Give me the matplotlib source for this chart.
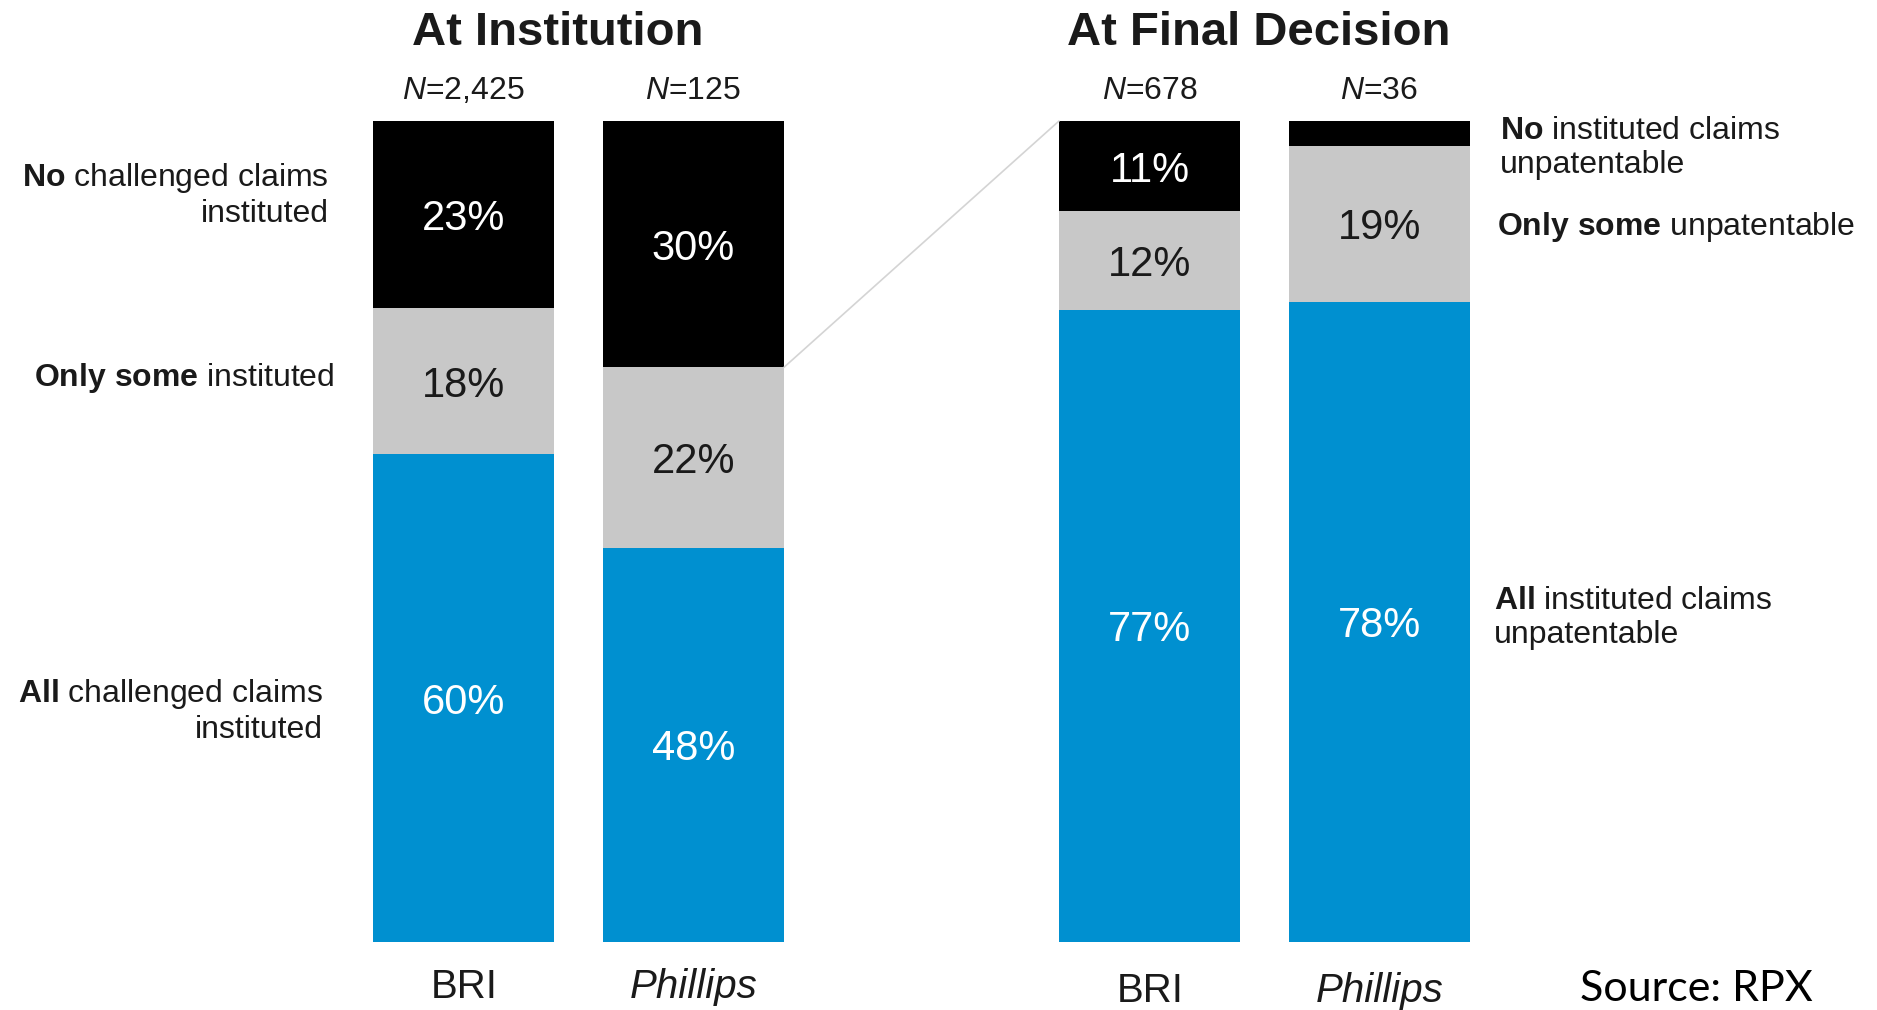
import matplotlib
matplotlib.use("Agg")
import matplotlib.pyplot as plt
from matplotlib.patches import ConnectionPatch
import numpy as np

plt.rcParams["font.family"] = ["Liberation Sans", "DejaVu Sans"]
plt.rcParams["mathtext.fontset"] = "custom"
plt.rcParams["mathtext.rm"] = "Liberation Sans"
plt.rcParams["mathtext.bf"] = "Liberation Sans:bold"
plt.rcParams["mathtext.it"] = "Liberation Sans:italic"

# data
groups = ["BRI", "Phillips"]
inst_n = ["2,425", "125"]
inst_all = [60, 48]
inst_some = [18, 22]
inst_none = [23, 30]

final_n = ["678", "36"]
final_all = [77, 78]
final_some = [12, 19]
final_none = [11, 3]

BLUE = "#0090d0"
GRAY = "#c8c8c8"
BLACK = "#000000"
TXT = "#1a1a1a"

W, H = 1877, 1010
fig = plt.figure(figsize=(W / 100, H / 100), dpi=100)


def px_axes(left, bottom_px, width, height):
    # left / bottom given in pixel coords of the full image (y from top)
    return fig.add_axes([left / W, (H - bottom_px) / H, width / W, height / H])


bar_w = 0.79


def stacked(ax, n, all_, some, none, label_y=-0.055):
    x = np.arange(len(groups))
    tot = np.array(all_) + np.array(some) + np.array(none)
    a = np.array(all_) / tot * 100
    s = np.array(some) / tot * 100
    k = np.array(none) / tot * 100
    ax.bar(x, a, width=bar_w, color=BLUE)
    ax.bar(x, s, width=bar_w, bottom=a, color=GRAY)
    ax.bar(x, k, width=bar_w, bottom=a + s, color=BLACK)
    for i in range(len(x)):
        ax.text(x[i], a[i] / 2, f"{all_[i]}%", ha="center", va="center_baseline",
                color="white", fontsize=30)
        ax.text(x[i], a[i] + s[i] / 2, f"{some[i]}%", ha="center",
                va="center_baseline", color=TXT, fontsize=30)
        if none[i] >= 5:
            ax.text(x[i], a[i] + s[i] + k[i] / 2, f"{none[i]}%", ha="center",
                    va="center_baseline", color="white", fontsize=30)
        ax.text(x[i], 1.036, f"$\\mathit{{N}}$={n[i]}", ha="center", va="center",
                color=TXT, fontsize=23, transform=ax.get_xaxis_transform())
        ax.text(x[i], label_y, groups[i], ha="center", va="center", color=TXT,
                fontsize=29, style="italic" if groups[i] == "Phillips" else "normal",
                transform=ax.get_xaxis_transform())
    ax.set_xlim(-bar_w / 2, len(x) - 1 + bar_w / 2)
    ax.set_ylim(0, 100)
    ax.axis("off")
    return a, s


ax1 = px_axes(373, 942, 411, 821)
a1, s1 = stacked(ax1, inst_n, inst_all, inst_some, inst_none)
ax2 = px_axes(1059, 942, 411, 821)
stacked(ax2, final_n, final_all, final_some, final_none, label_y=-0.06)

# connector from Phillips (institution) black/gray edge to top of final bars
con = ConnectionPatch(xyA=(1 + bar_w / 2, a1[1] + s1[1]), coordsA=ax1.transData,
                      xyB=(-bar_w / 2, 100), coordsB=ax2.transData,
                      color="#d4d4d4", lw=1.2)
fig.add_artist(con)

fig.text(558 / W, 1 - 33 / H, "At Institution", ha="center", va="center",
         fontsize=34, fontweight="bold", color=TXT)
fig.text(1259 / W, 1 - 33 / H, "At Final Decision", ha="center", va="center",
         fontsize=34, fontweight="bold", color=TXT)


def side(xpx, ypx, s, ha):
    fig.text(xpx / W, 1 - ypx / H, s, ha=ha, va="center", multialignment=ha,
             fontsize=23, color=TXT, linespacing=1.2)


side(329, 195, "$\\bf{No}$ challenged claims\ninstituted", "right")
side(334, 378, "$\\bf{Only\\ some}$ instituted", "right")
side(323, 711, "$\\bf{All}$ challenged claims\ninstituted", "right")
side(1500, 148, "$\\bf{No}$ instituted claims\nunpatentable", "left")
side(1497, 227, "$\\bf{Only\\ some}$ unpatentable", "left")
side(1494, 618, "$\\bf{All}$ instituted claims\nunpatentable", "left")

fig.text(1580 / W, 1 - 989 / H, "Source: RPX", ha="left", va="center",
         fontsize=31, family="Lato", color="black")

fig.savefig("out.png", dpi=100, facecolor="white")
